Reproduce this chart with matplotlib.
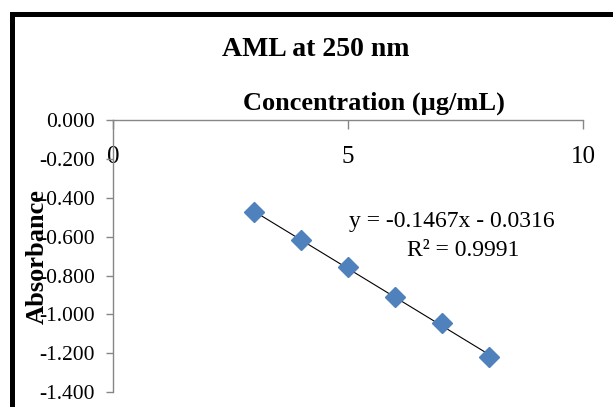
import matplotlib
matplotlib.use("Agg")
import matplotlib.pyplot as plt
from matplotlib.lines import Line2D
import numpy as np

plt.rcParams["font.family"] = ["Liberation Serif", "DejaVu Serif"]
plt.rcParams["axes.unicode_minus"] = False

# data
conc = [3, 4, 5, 6, 7, 8]
absorbance = [-0.473, -0.618, -0.757, -0.911, -1.045, -1.220]
x_ticks = [0, 5, 10]
y_ticks = [0.0, -0.2, -0.4, -0.6, -0.8, -1.0, -1.2, -1.4]
eq_text = "y = -0.1467x - 0.0316"
r2_text = "R² = 0.9991"

W, H = 613, 407
fig = plt.figure(figsize=(W / 100, H / 100), dpi=100)
ax = fig.add_axes([113 / W, 1 - 392 / H, (583 - 113) / W, (392 - 120.5) / H])

# trend line from a linear fit
slope, icpt = np.polyfit(conc, absorbance, 1)
xs = np.array([conc[0], conc[-1]])
ax.plot(xs, slope * xs + icpt, color="black", linewidth=0.8, zorder=2)
ax.plot(conc, absorbance, linestyle="none", marker="D", markersize=10,
        color="#4F81BD", markeredgecolor="#4F81BD", zorder=3)

ax.set_xlim(0, 10)
ax.set_ylim(-1.4, 0)
ax.set_xticks(x_ticks)
ax.set_yticks(y_ticks)
ax.set_yticklabels([f"{v:.3f}" for v in y_ticks])

for s in ["right", "bottom"]:
    ax.spines[s].set_visible(False)
for s in ["left", "top"]:
    ax.spines[s].set_color("#868686")
    ax.spines[s].set_linewidth(1.0)

ax.xaxis.tick_top()
ax.tick_params(axis="x", direction="in", length=6.5, width=1.0, color="#868686",
               labelsize=18, pad=-34)
ax.tick_params(axis="y", direction="out", length=5, width=1.0, color="#868686",
               labelsize=15.5, pad=8)

# titles
fig.text(316 / W, 1 - 50 / H, "AML at 250 nm", ha="center", va="center",
         fontsize=20, fontweight="bold")
fig.text(374 / W, 1 - 103 / H, "Concentration (µg/mL)", ha="center", va="center",
         fontsize=19, fontweight="bold")
fig.text(37 / W, 1 - 257 / H, "Absorbance", ha="center", va="center",
         rotation=90, fontsize=19, fontweight="bold")

# equation
fig.text(452 / W, 1 - 221 / H, eq_text, ha="center", va="center", fontsize=17)
fig.text(463 / W, 1 - 251 / H, r2_text, ha="center", va="center", fontsize=17)

# black frame (top and left)
fig.add_artist(Line2D([11.5 / W, 11.5 / W, 1.01], [-0.01, 1 - 13.5 / H, 1 - 13.5 / H],
                      transform=fig.transFigure, color="black", linewidth=3.6,
                      solid_joinstyle="miter"))

fig.savefig("out.png", dpi=100)
